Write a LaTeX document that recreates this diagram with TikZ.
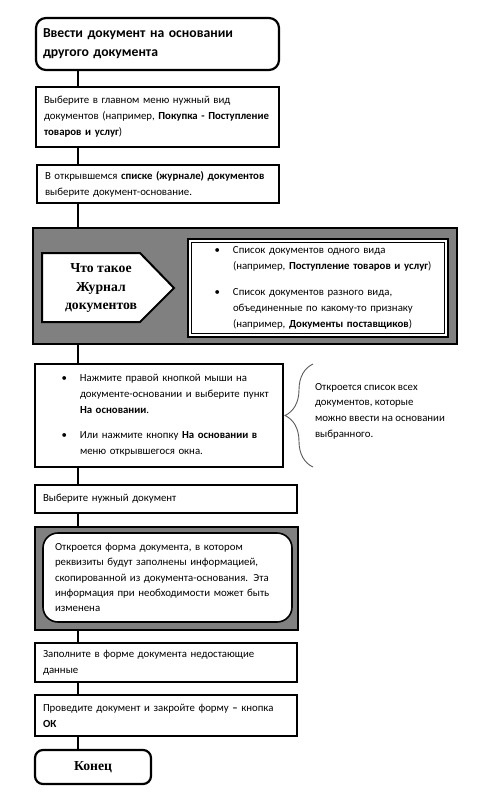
\documentclass[tikz,border=0pt]{standalone}
\usepackage{fontspec}
\setmainfont{Carlito}
\newfontfamily\timesfont{Liberation Serif}
\usetikzlibrary{decorations.pathreplacing}
\newcommand\bul{\leavevmode\llap{\textbullet\hspace{13pt}}}
\begin{document}
\begin{tikzpicture}[x=1pt,y=-1pt,
  every node/.style={outer sep=0pt},
  box/.style={draw, line width=2.2pt, fill=white, rectangle, anchor=north west,
    inner xsep=8pt, inner ysep=0pt, align=left,
    font=\fontsize{10.8}{16}\selectfont},
  graybox/.style={draw, line width=2.2pt, fill=gray, rectangle, anchor=north west, inner sep=0pt},
  conn/.style={line width=2.5pt}
]
\useasboundingbox (0,0) rectangle (498,798);
\coordinate (cx) at (78,0);

% title
\node[box, rounded corners=10pt, minimum width=243pt, minimum height=52pt, text width=229pt,
  inner xsep=7pt, font=\fontsize{13.7}{19}\selectfont\bfseries] (title) at (36,18)
  {Ввести документ на основании\\другого документа};

\node[box, minimum width=243pt, minimum height=60pt, text width=227pt] (b2) at (36,87)
  {Выберите в главном меню нужный вид\\документов (например, \textbf{Покупка - Поступление}\\\textbf{товаров и услуг})};

\node[box, minimum width=242pt, minimum height=38pt, text width=226pt] (b3) at (37,165)
  {В открывшемся \textbf{списке (журнале) документов}\\выберите документ-основание.};

% gray block 1
\node[graybox, minimum width=424pt, minimum height=116pt] (g1) at (33,228) {};
\draw[line width=2pt, fill=white] (42,253) -- (140,253) -- (174,288) -- (140,322) -- (42,322) -- cycle;
\node[align=center, font=\timesfont\fontsize{13.7}{18.5}\selectfont\bfseries] (jq) at (101,288)
  {Что такое\\Журнал\\документов};
\node[box, line width=2pt, minimum width=260pt, minimum height=98pt, text width=244pt] (jl) at (188,239)
  {\leftskip=37pt
   \bul Список документов одного вида\\(например, \textbf{Поступление товаров и услуг})\par
   \vspace{10pt}
   \bul Список документов разного вида,\\объединенные по какому-то признаку\\(например, \textbf{Документы поставщиков})\par};
\draw[line width=0.8pt] ([shift={(3.5,3.5)}]jl.north west) rectangle ([shift={(-3.5,-3.5)}]jl.south east);

% bullets box
\node[box, minimum width=248pt, minimum height=103pt, text width=232pt] (b4) at (35,364)
  {\leftskip=37pt
   \bul Нажмите правой кнопкой мыши на\\документе-основании и выберите пункт\\\textbf{На основании}.\par
   \vspace{9pt}
   \bul Или нажмите кнопку \textbf{На основании в}\\меню открывшегося окна.\par};
\coordinate (brtop) at (313,364);
\coordinate (brbot) at (313,467);
\draw[gray!70!black, line width=0.9pt, decorate, decoration={brace, amplitude=28pt, aspect=0.5}]
  (brbot) -- (brtop);
\node[anchor=west, align=left, inner sep=0pt, font=\fontsize{10.8}{15.6}\selectfont] (note) at (315,411)
  {Откроется список всех\\документов, которые\\можно ввести на основании\\выбранного.};

\node[box, minimum width=262pt, minimum height=28pt, text width=246pt] (b5) at (35,485)
  {Выберите нужный документ};

% gray block 2
\node[graybox, minimum width=263pt, minimum height=103pt] (g2) at (35,527) {};
\node[box, line width=1.6pt, rounded corners=15pt, minimum width=249pt, minimum height=89pt,
  text width=225pt, inner xsep=12pt, font=\fontsize{10.8}{15.3}\selectfont] (g2t) at (43,533)
  {Откроется форма документа, в котором\\реквизиты будут заполнены информацией,\\скопированной из документа-основания. Эта\\информация при необходимости может быть\\изменена};

\node[box, minimum width=262pt, minimum height=39pt, text width=246pt] (b6) at (35,643)
  {Заполните в форме документа недостающие\\данные};
\node[box, minimum width=262pt, minimum height=41pt, text width=246pt] (b7) at (35,695)
  {Проведите документ и закройте форму \textbf{–} кнопка\\\textbf{ОК}};
\node[box, rounded corners=8pt, minimum width=116pt, minimum height=34pt, text width=100pt,
  align=center, font=\timesfont\fontsize{13.7}{16}\selectfont\bfseries] (end) at (35,750) {Конец};

% connectors
\draw[conn] (title.south -| cx) -- (b2.north -| cx);
\draw[conn] (b2.south -| cx) -- (b3.north -| cx);
\draw[conn] (b3.south -| cx) -- (g1.north -| cx);
\draw[conn] (g1.south -| cx) -- (b4.north -| cx);
\draw[conn] (b4.south -| cx) -- (b5.north -| cx);
\draw[conn] (b5.south -| cx) -- (g2.north -| cx);
\draw[conn] (g2.south -| cx) -- (b6.north -| cx);
\draw[conn] (b6.south -| cx) -- (b7.north -| cx);
\draw[conn] (b7.south -| cx) -- (end.north -| cx);
\end{tikzpicture}
\end{document}
